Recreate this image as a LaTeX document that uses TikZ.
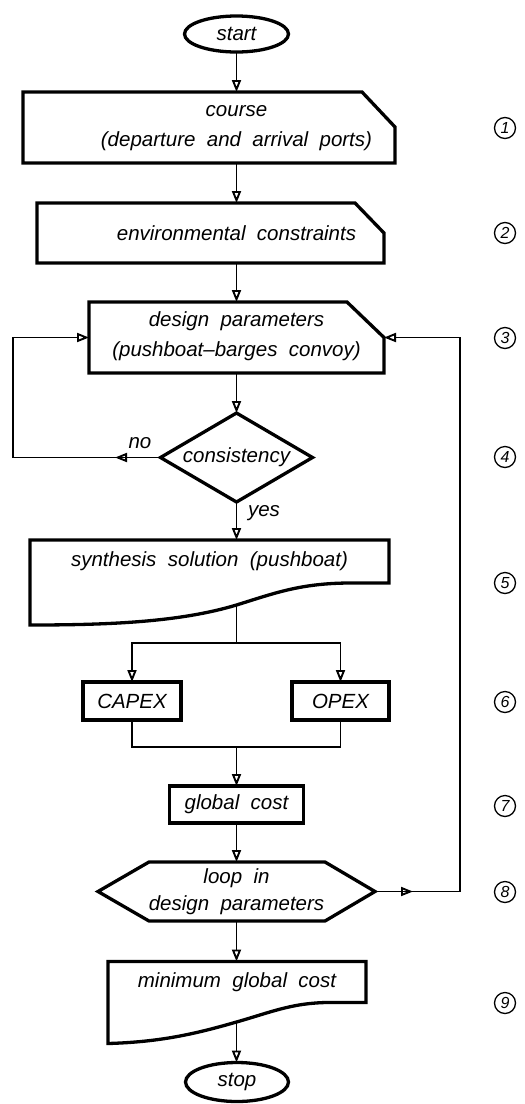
\documentclass[tikz,border=0pt]{standalone}
\usepackage{fontspec}
\setmainfont{Liberation Sans}[WordSpace=2]
\usetikzlibrary{arrows.meta,shapes.geometric,calc,decorations.markings}
\begin{document}
\begin{tikzpicture}[x=1pt,y=-1pt,
  every node/.style={font=\fontsize{20.5}{30}\selectfont\itshape, inner sep=0pt, outer sep=0pt},
  boxline/.style={line width=3.3pt, line join=miter},
  conn/.style={line width=1.9pt, -{Triangle[open,length=12pt,width=9pt]}},
  plain/.style={line width=1.9pt},
  midarrow/.style={postaction={decorate}, decoration={markings,
      mark=at position #1 with {\arrow{Triangle[open,length=12pt,width=9pt]}}}},
  num/.style={circle, draw, line width=1.3pt, minimum size=21pt,
      font=\fontsize{16}{16}\selectfont\itshape},
  geo/.style={rectangle}
]
\useasboundingbox (0,0) rectangle (525,1104);

% ---------- shapes ----------
\node[draw, ellipse, boxline, minimum width=104pt, minimum height=36pt] (start) at (236.5,34) {start};

\node[geo, minimum width=372pt, minimum height=71pt] (course) at (209,127.5) {};
\draw[boxline] (course.north west) -- ($(course.north east)+(-33,0)$) -- ($(course.north east)+(0,35)$)
  -- (course.south east) -- (course.south west) -- cycle;
\node[align=center] (coursetxt) at (236.5,128.5) {course\\(departure and arrival ports)};

\node[geo, minimum width=347pt, minimum height=60pt] (env) at (210.5,233) {};
\draw[boxline] (env.north west) -- ($(env.north east)+(-29,0)$) -- ($(env.north east)+(0,30)$)
  -- (env.south east) -- (env.south west) -- cycle;
\node (envtxt) at (236.5,233) {environmental constraints};

\node[geo, minimum width=295pt, minimum height=71pt] (design) at (236.5,337.5) {};
\draw[boxline] (design.north west) -- ($(design.north east)+(-37,0)$) -- (design.east)
  -- (design.south east) -- (design.south west) -- cycle;
\node[align=center] (designtxt) at (236.5,336) {design parameters\\(pushboat--barges convoy)};

\node[geo, minimum width=152pt, minimum height=89pt] (cons) at (236.5,457.5) {consistency};
\draw[boxline] (cons.north) -- (cons.east) -- (cons.south) -- (cons.west) -- cycle;

\node[geo, minimum width=359pt, minimum height=43pt] (synth) at (209.5,561.5) {synthesis solution (pushboat)};
\draw[boxline] (synth.south east) -- (synth.north east) -- (synth.north west) -- ($(synth.south west)+(0,42)$)
  .. controls (110,625) and (180,622) .. (236.5,605) coordinate (synthb)
  .. controls (275,593) and (300,583.5) .. ($(synth.south east)+(-41,0)$) -- cycle;

\node[draw, boxline, minimum width=98pt, minimum height=38pt] (capex) at (132,701) {CAPEX};
\node[draw, boxline, minimum width=97pt, minimum height=38pt] (opex) at (340.5,701) {OPEX};
\node[draw, boxline, minimum width=134pt, minimum height=37pt] (gcost) at (236.5,804.5) {global cost};

\node[geo, minimum width=277pt, minimum height=59pt, align=center,
      font=\fontsize{20.5}{27}\selectfont\itshape] (loop) at (236.5,891.5) {loop in\\design parameters};
\draw[boxline] (loop.west) -- ($(loop.north west)+(51,0)$) -- ($(loop.north east)+(-50,0)$) -- (loop.east)
  -- ($(loop.south east)+(-50,0)$) -- ($(loop.south west)+(51,0)$) -- cycle;

\node[geo, minimum width=258pt, minimum height=41pt] (minc) at (237,982) {minimum global cost};
\draw[boxline] (minc.south east) -- (minc.north east) -- (minc.north west) -- ($(minc.south west)+(0,41)$)
  .. controls (160,1042) and (195,1034) .. (236.5,1022) coordinate (minb)
  .. controls (275,1011) and (295,1001.5) .. ($(minc.south east)+(-28,0)$) -- cycle;

\node[draw, ellipse, boxline, minimum width=103pt, minimum height=39pt] (stop) at (237,1082) {stop};

% ---------- connectors ----------
\coordinate (lft) at (13,457.5);
\coordinate (rgt) at (460,891.5);
\coordinate (split) at (236.5,643);
\coordinate (join) at (236.5,747);

\draw[conn] (start.south) -- (start.south |- course.north west);
\draw[conn] (start.south |- course.south west) -- (start.south |- env.north west);
\draw[conn] (start.south |- env.south west) -- (design.north);
\draw[conn] (design.south) -- (cons.north);
\draw[conn] (cons.south) -- (cons.south |- synth.north);
\node (yes) at (264,513) {yes};
\draw[conn, midarrow=45.5pt] (cons.west) -- (lft) |- (design.west);
\node (no) at (140,443) {no};

\draw[plain] (synthb) -- (split);
\draw[conn] (split) -| (capex.north);
\draw[conn] (split) -| (opex.north);
\draw[plain] (capex.south) |- (join);
\draw[plain] (opex.south) |- (join);
\draw[conn] (join) -- (gcost.north);
\draw[conn] (gcost.south) -- (loop.north);
\draw[conn, midarrow=38pt] (loop.east) -- (rgt) |- (design.east);
\draw[conn] (loop.south) -- (loop.south |- minc.north);
\draw[conn] (minb) -- (stop.north -| minb);

% ---------- step numbers ----------
\node[num] (n1) at (505,128) {1};
\node[num] (n2) at (505,233) {2};
\node[num] (n3) at (505,338) {3};
\node[num] (n4) at (505,457) {4};
\node[num] (n5) at (505,583) {5};
\node[num] (n6) at (505,702) {6};
\node[num] (n7) at (505,806) {7};
\node[num] (n8) at (505,892) {8};
\node[num] (n9) at (505,1003) {9};
\end{tikzpicture}
\end{document}
